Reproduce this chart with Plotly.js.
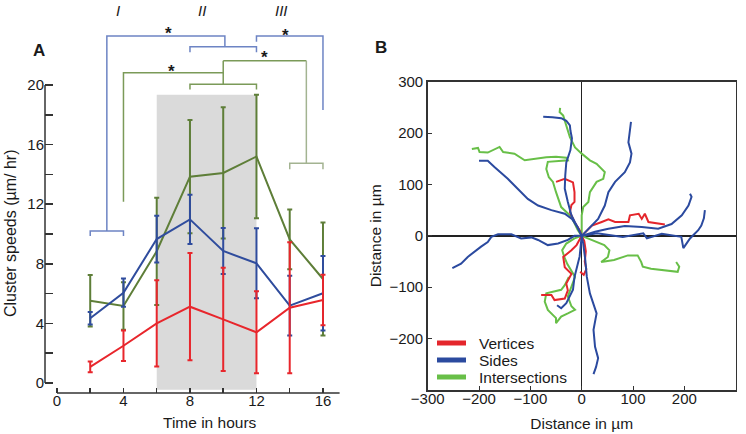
<!DOCTYPE html>
<html><head><meta charset="utf-8">
<script src="https://cdn.plot.ly/plotly-3.0.1.min.js"></script>
<style>html,body{margin:0;padding:0;background:#fff}#chart{width:746px;height:434px}</style>
</head><body><div id="chart"></div>
<script>
// ---------- Panel A data ----------
const timeHours = [2, 4, 6, 8, 10, 12, 14, 16];
const verticesSpeed = [1.08, 2.5, 4.0, 5.12, 4.27, 3.4, 5.05, 5.57];
const verticesErr   = [0.36, 1.03, 2.9, 3.6, 3.47, 2.75, 4.4, 1.7];
const sidesSpeed    = [4.34, 6.06, 9.66, 10.98, 8.86, 8.03, 5.19, 6.02];
const sidesErr      = [0.42, 0.95, 1.57, 1.65, 1.55, 2.35, 2.0, 2.5];
const interSpeed    = [5.52, 5.17, 8.84, 13.85, 14.1, 15.2, 9.64, 6.98];
const interErr      = [1.73, 1.6, 3.6, 3.8, 4.4, 4.15, 2.0, 3.8];

const timeTicks = [0, 2, 4, 6, 8, 10, 12, 14, 16];
const timeTickText = ['0', '', '4', '', '8', '', '12', '', '16'];
const speedTicks = [0, 2, 4, 6, 8, 10, 12, 14, 16, 18, 20];
const speedTickText = ['0', '', '4', '', '8', '', '12', '', '16', '', '20'];
const periodLabels = ['I', 'II', 'III'];

// ---------- Panel B data (trajectories, µm) ----------
const sidesTracksX = [
  [0,-7,-20,-27,-33,-32,-30,-22,-19,-22,-23,-30,-40,-57,-75],
  [0,-8,-19,-33,-59,-85,-105,-124,-144,-170,-183,-200],
  [0,13,32,45,52,65,84,94,97,91,94,96],
  [0,26,52,84,117,149,175,195,208,214,211],
  [0,30,80,120,127,156,194,198,211,227,233,238,240],
  [0,-14,-27,-46,-66,-85,-98,-118,-137,-163,-176,-183,-196,-209,-222,-235,-252],
  [0,3,7,10,16,23,29,23,26,32,28,23],
  [0,-4,-14,-17,-30,-40,-48]
];
const sidesTracksY = [
  [0,14,40,66,92,118,143,167,190,205,215,224,229,231,232],
  [0,17,33,43,50,59,72,92,111,134,146,146],
  [0,14,33,59,85,105,124,143,160,182,210,222],
  [0,8,14,19,17,14,23,40,59,76,82],
  [0,5,-2,5,-5,4,-2,-24,-5,11,20,34,50],
  [0,0,-8,-15,-18,-8,-3,-5,3,3,-2,-12,-21,-31,-41,-54,-63],
  [0,-15,-47,-80,-112,-131,-151,-183,-216,-238,-255,-269],
  [0,-40,-80,-105,-131,-141,-135]
];
const verticesTracksX = [
  [0,-4,-14,-23,-20,-14,-14,-17,-33,-50],
  [0,20,39,52,65,91,94,111,117,123,130,149,162],
  [0,-10,-20,-36,-33,-20,-30,-27,-33,-53,-59,-79],
  [0,5,8,6,9,4,-3]
];
const verticesTracksY = [
  [0,11,27,46,60,66,85,104,111,105],
  [0,20,27,32,27,27,40,43,33,43,27,24,22],
  [0,-18,-28,-41,-61,-74,-93,-106,-122,-125,-115,-115],
  [0,-10,-30,-50,-65,-76,-70]
];
const interTracksX = [
  [0,0,3,13,16,29,42,45,29,16,0,-13,-23,-30,-36,-43,-42],
  [0,-8,-20,-40,-50,-56,-64,-69,-66,-45,-27,-30,-50,-69,-92,-111,-131,-153,-160,-183,-199,-202,-214],
  [0,18,44,54,51,38,63,90,109,116,119,135,155,187,190,184],
  [0,-14,-30,-38,-34,-28,-13,-20,-27,-20,-13,-27,-40,-50,-50,-66,-72,-69,-56,-40,-33,-25]
];
const interTracksY = [
  [0,40,56,66,85,105,111,124,140,147,160,172,192,215,234,241,249],
  [0,12,37,56,85,105,114,130,144,146,147,152,154,153,150,147,160,163,173,162,163,171,169],
  [0,-8,-18,-28,-41,-51,-47,-38,-38,-51,-60,-64,-66,-70,-60,-51],
  [0,-5,-15,-28,-41,-55,-80,-99,-118,-137,-144,-151,-157,-170,-160,-144,-128,-112,-109,-105,-96,-80]
];
const distTicks = [-300, -200, -100, 0, 100, 200, 300];
const distTickText = ['\u2212300', '\u2212200', '\u2212100', '0', '100', '200', '300'];
const distTicksY = [-200, -100, 0, 100, 200, 300];
const distTickTextY = ['\u2212200', '\u2212100', '0', '100', '200', '300'];
const legendNames = ['Vertices', 'Sides', 'Intersections'];

// ---------- styles ----------
const FONT = 'Liberation Sans, Arial, Helvetica, sans-serif';
const W = 746, H = 434;
const px = v => v / W;
const py = v => 1 - v / H;
const colA = {red: '#e8262c', blue: '#2f4c9d', green: '#5e7e38'};
const colB = {red: '#e4262c', blue: '#2b4a9f', green: '#68bf48'};
const brBlue = '#6d84c4', brGreen = '#7b9a58', brGreenLight = '#a3b391';
const AX = '#333';

function joinTracks(xs, ys) {
  const X = [], Y = [];
  xs.forEach((t, i) => {
    if (i > 0) { X.push(null); Y.push(null); }
    X.push(...t); Y.push(...ys[i]);
  });
  return {X, Y};
}

function speedTrace(y, err, color, name) {
  return {
    x: timeHours, y: y, name: name, type: 'scatter', mode: 'lines',
    xaxis: 'x', yaxis: 'y',
    line: {color: color, width: 2},
    error_y: {type: 'data', array: err, visible: true, color: color, thickness: 2, width: 2.5},
    hoverinfo: 'skip'
  };
}

const traces = [
  speedTrace(interSpeed, interErr, colA.green, 'Intersections'),
  speedTrace(sidesSpeed, sidesErr, colA.blue, 'Sides'),
  speedTrace(verticesSpeed, verticesErr, colA.red, 'Vertices')
];

[[interTracksX, interTracksY, colB.green, 'Intersections'],
 [verticesTracksX, verticesTracksY, colB.red, 'Vertices'],
 [sidesTracksX, sidesTracksY, colB.blue, 'Sides']].forEach(([xs, ys, c, n]) => {
  const j = joinTracks(xs, ys);
  traces.push({x: j.X, y: j.Y, name: n, type: 'scatter', mode: 'lines',
    xaxis: 'x2', yaxis: 'y2', connectgaps: false,
    line: {color: c, width: 2}, hoverinfo: 'skip'});
});

// significance brackets (data units of panel A)
const bracketPaths = [
  ['M2,9.87 L2,10.2 L4,10.2 L4,9.87 M3,10.2 L3,23.29 L10.1,23.29 L10.1,22.57 M8,22.2 L8,22.57 L12,22.57 L12,22.2', brBlue],
  ['M12,22.9 L12,23.29 L16,23.29 L16,18.32', brBlue],
  ['M4,12.17 L4,20.83 L10,20.83 M10,21.63 L10,20.05 M8,19.7 L8,20.05 L12,20.05 L12,19.7', brGreen],
  ['M10,21.63 L15,21.63', brGreen],
  ['M15,21.63 L15,14.74 M14,14.34 L14,14.74 L16,14.74 L16,14.34', brGreenLight]
];

const shapes = [
  {type: 'rect', xref: 'x', yref: 'y', x0: 6, x1: 12, y0: -0.45, y1: 19.35,
   fillcolor: '#dadada', line: {width: 0}, layer: 'below'},
  // detached axis lines of panel A
  {type: 'line', xref: 'paper', yref: 'paper', x0: px(45), x1: px(45), y0: py(383), y1: py(85),
   line: {color: AX, width: 1.5}},
  {type: 'line', xref: 'paper', yref: 'paper', x0: px(57), x1: px(339.6), y0: py(393), y1: py(393),
   line: {color: AX, width: 1.5}}
];
bracketPaths.forEach(([p, c]) => shapes.push({type: 'path', xref: 'x', yref: 'y', path: p,
  line: {color: c, width: 1.5}}));

// legend for panel B
const legendColors = [colB.red, colB.blue, colB.green];
const legendY = [343, 360, 377];
legendNames.forEach((n, i) => shapes.push({type: 'line', xref: 'paper', yref: 'paper',
  x0: px(437), x1: px(466), y0: py(legendY[i]), y1: py(legendY[i]),
  line: {color: legendColors[i], width: 5}}));

const C = {xanchor: 'center', yanchor: 'middle', showarrow: false};
const annotations = [
  Object.assign({text: '<b>A</b>', x: px(39), y: py(51), xref: 'paper', yref: 'paper', font: {size: 17}}, C),
  Object.assign({text: '<b>B</b>', x: px(381), y: py(47), xref: 'paper', yref: 'paper', font: {size: 17}}, C),
  Object.assign({text: 'Cluster speeds (\u00b5m/ hr)', x: px(10), y: py(234), xref: 'paper', yref: 'paper',
   textangle: -90, font: {size: 16}}, C),
  Object.assign({text: 'Time in hours', x: px(210), y: py(422), xref: 'paper', yref: 'paper', font: {size: 15.5}}, C)
];
const periodX = [117.7, 201.7, 281.7];
periodLabels.forEach((t, i) => annotations.push(Object.assign({text: '<i>' + t + '</i>', x: px(periodX[i]), y: py(10),
  xref: 'paper', yref: 'paper', font: {size: 15}}, C)));
const starPos = [[6.68, 23.46], [13.77, 23.34], [6.9, 20.92], [12.47, 21.83]];
starPos.forEach(([sx, sy]) => annotations.push(Object.assign({text: '<b>*</b>', x: sx, y: sy, xref: 'x', yref: 'y',
  font: {size: 17}}, C)));
legendNames.forEach((n, i) => annotations.push({text: n, x: px(477), y: py(legendY[i]),
  xref: 'paper', yref: 'paper', xanchor: 'left', yanchor: 'middle', showarrow: false, font: {size: 15.5}}));

const layout = {
  width: W, height: H, margin: {l: 0, r: 0, t: 0, b: 0},
  paper_bgcolor: '#fff', plot_bgcolor: 'rgba(0,0,0,0)', showlegend: false,
  font: {family: FONT, size: 15, color: '#1a1a1a'},
  // panel A: x axis sits at the bottom of the y domain (393 px), y axis at left of x domain (45 px)
  xaxis: {domain: [px(45), px(339.6)], range: [-0.72, 17], anchor: 'y',
    showline: false, ticks: 'inside', ticklen: 5, tickwidth: 1.5, tickcolor: AX,
    tickmode: 'array', tickvals: timeTicks, ticktext: timeTickText, ticklabelstandoff: -3,
    showgrid: false, zeroline: false, tickfont: {size: 15}},
  yaxis: {domain: [41 / H, 1], range: [-10 / 14.9, 383 / 14.9], anchor: 'x',
    showline: false, ticks: 'inside', ticklen: 8, tickwidth: 1.5, tickcolor: AX,
    tickmode: 'array', tickvals: speedTicks, ticktext: speedTickText,
    showgrid: false, zeroline: false, tickfont: {size: 15}},
  xaxis2: {domain: [px(427.7), px(735.7)], range: [-300, 300], anchor: 'y2',
    showline: true, mirror: true, linecolor: AX, linewidth: 1.5,
    zeroline: true, zerolinecolor: '#222', zerolinewidth: 1.5,
    ticks: 'inside', ticklen: 4, tickcolor: AX, tickmode: 'array', tickvals: distTicks, ticktext: distTickText,
    ticklabelstandoff: -6, showgrid: false, tickfont: {size: 15},
    title: {text: 'Distance in \u00b5m', font: {size: 15.5}, standoff: 12}},
  yaxis2: {domain: [44 / H, 352.3 / H], range: [-300, 300], anchor: 'x2',
    showline: true, mirror: true, linecolor: AX, linewidth: 1.5,
    zeroline: true, zerolinecolor: '#222', zerolinewidth: 1.5,
    ticks: 'inside', ticklen: 4, tickcolor: AX, tickmode: 'array', tickvals: distTicksY, ticktext: distTickTextY,
    showgrid: false, tickfont: {size: 15},
    title: {text: 'Distance in \u00b5m', font: {size: 15.5}, standoff: 4}},
  shapes: shapes,
  annotations: annotations
};

Plotly.newPlot('chart', traces, layout, {staticPlot: true, displayModeBar: false});
</script></body></html>
